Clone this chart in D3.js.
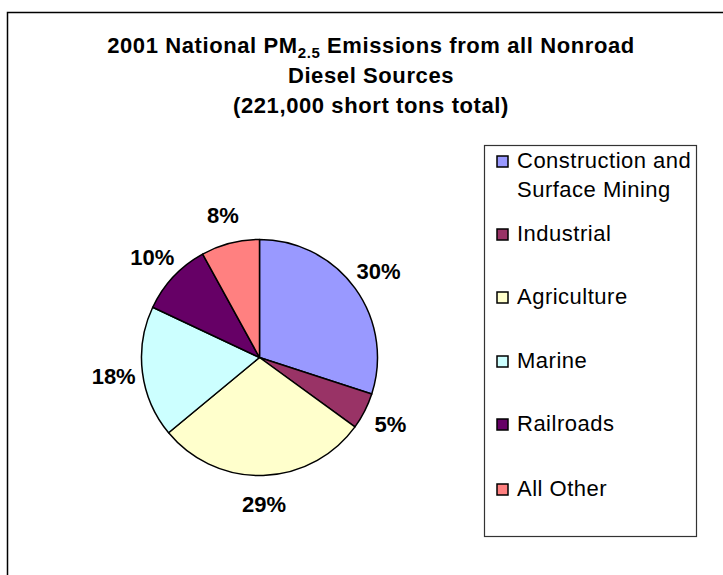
<!DOCTYPE html>
<html>
<head>
<meta charset="utf-8">
<script src="https://cdn.jsdelivr.net/npm/d3@7"></script>
<style>
  html, body { margin: 0; padding: 0; background: #fff; }
  svg { display: block; }
  text { font-family: Arial, "Liberation Sans", sans-serif; }
</style>
</head>
<body>
<script>
// Nonroad diesel PM2.5 emissions by source category (percent of 221,000 short tons)
const categories = ["Construction and Surface Mining", "Industrial", "Agriculture", "Marine", "Railroads", "All Other"];
const legendLines = [["Construction and", "Surface Mining"], ["Industrial"], ["Agriculture"], ["Marine"], ["Railroads"], ["All Other"]];
const shares = [30, 5, 29, 18, 10, 8];
const sliceColors = ["#9999FF", "#993366", "#FFFFCC", "#CCFFFF", "#660066", "#FF8080"];

const W = 723, H = 575;
const svg = d3.select("body").append("svg").attr("width", W).attr("height", H);

// chart frame (runs past the right and bottom edges)
svg.append("rect")
  .attr("x", 7.5).attr("y", 12.5)
  .attr("width", 800).attr("height", 700)
  .attr("fill", "#fff").attr("stroke", "#000").attr("stroke-width", 1.5);

// title
const title = svg.append("text")
  .attr("text-anchor", "middle")
  .attr("font-weight", "bold")
  .attr("font-size", 22)
  .attr("letter-spacing", 0.6);
const t1 = title.append("tspan").attr("x", 371).attr("y", 53);
t1.append("tspan").text("2001 National PM");
t1.append("tspan").attr("font-size", 15).attr("dy", 5).text("2.5");
t1.append("tspan").attr("dy", -5).text(" Emissions from all Nonroad");
title.append("tspan").attr("x", 371).attr("y", 83).text("Diesel Sources");
title.append("tspan").attr("x", 371).attr("y", 113).text("(221,000 short tons total)");

// pie
const cx = 259.5, cy = 357.5, R = 118;
const pie = d3.pie().sort(null).value(d => d);
const arcs = pie(shares);
const arc = d3.arc().innerRadius(0).outerRadius(R);
const labelArc = d3.arc().innerRadius(147).outerRadius(147);
const color = d3.scaleOrdinal().domain(categories).range(sliceColors);

const g = svg.append("g").attr("transform", `translate(${cx},${cy})`);
g.selectAll("path.slice")
  .data(arcs)
  .join("path")
  .attr("class", "slice")
  .attr("d", arc)
  .attr("fill", (d, i) => color(categories[i]))
  .attr("stroke", "#000")
  .attr("stroke-width", 1.5)
  .attr("stroke-linejoin", "round");

g.selectAll("text.pct")
  .data(arcs)
  .join("text")
  .attr("class", "pct")
  .attr("transform", d => `translate(${labelArc.centroid(d)})`)
  .attr("text-anchor", "middle")
  .attr("dy", "0.36em")
  .attr("font-weight", "bold")
  .attr("font-size", 22)
  .text(d => d3.format(".0f")(d.data) + "%");

// legend
const lg = svg.append("g");
lg.append("rect")
  .attr("x", 484.5).attr("y", 145.5)
  .attr("width", 212).attr("height", 391)
  .attr("fill", "#fff").attr("stroke", "#333").attr("stroke-width", 1.2);

const firstBase = [168, 241, 304, 368, 431, 496];
const items = lg.selectAll("g.item")
  .data(categories)
  .join("g")
  .attr("class", "item");
items.append("rect")
  .attr("x", 497).attr("y", (d, i) => firstBase[i] - 12)
  .attr("width", 11).attr("height", 11)
  .attr("fill", d => color(d))
  .attr("stroke", "#000").attr("stroke-width", 1.5);
items.each(function (d, i) {
  const t = d3.select(this).append("text")
    .attr("font-size", 22)
    .attr("letter-spacing", 0.5);
  legendLines[i].forEach((line, j) => {
    t.append("tspan").attr("x", 517).attr("y", firstBase[i] + j * 29).text(line);
  });
});
</script>
</body>
</html>
